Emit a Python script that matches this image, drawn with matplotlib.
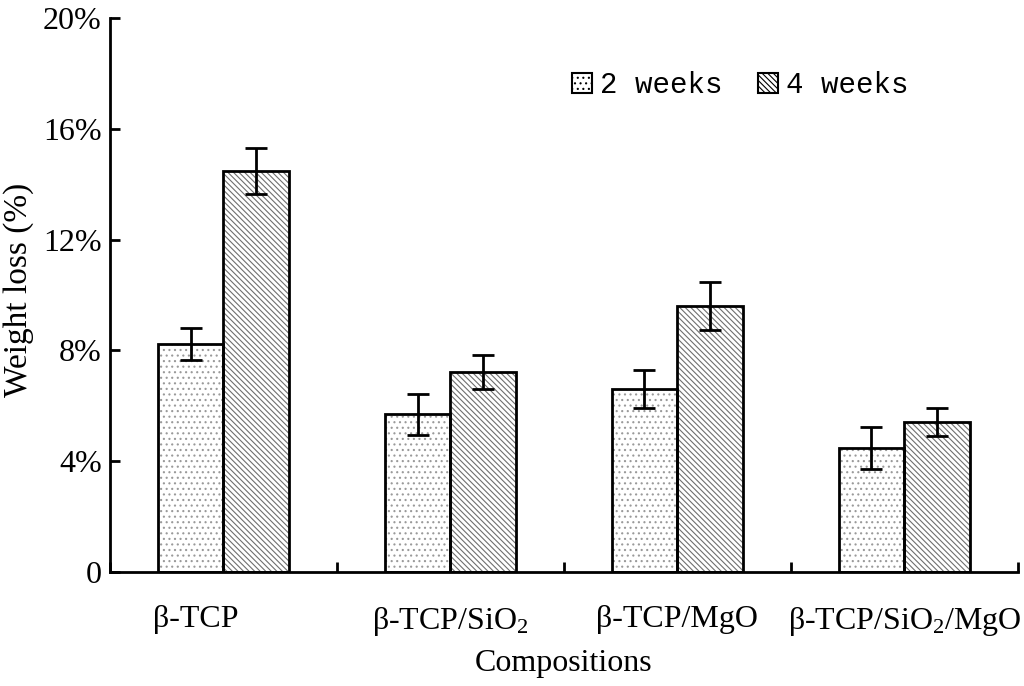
import matplotlib
matplotlib.use("Agg")
import matplotlib.pyplot as plt
import matplotlib.transforms as mtransforms
from matplotlib.patches import Patch
import numpy as np

plt.rcParams['font.family'] = ['Liberation Serif', 'DejaVu Serif']
plt.rcParams['mathtext.fontset'] = 'custom'
plt.rcParams['mathtext.rm'] = 'Liberation Serif'
plt.rcParams['mathtext.it'] = 'Liberation Serif:italic'
plt.rcParams['hatch.linewidth'] = 0.8

categories = ['β-TCP', 'β-TCP/SiO$_2$', 'β-TCP/MgO', 'β-TCP/SiO$_2$/MgO']
weeks2 = [8.23, 5.70, 6.60, 4.48]
weeks2_err = [0.58, 0.74, 0.68, 0.77]
weeks4 = [14.48, 7.22, 9.60, 5.42]
weeks4_err = [0.83, 0.62, 0.88, 0.50]
series_labels = ['2 weeks', '4 weeks']
yticks = [0, 4, 8, 12, 16, 20]
ytick_labels = ['0', '4%', '8%', '12%', '16%', '20%']

fig = plt.figure(figsize=(10.24, 6.86), dpi=100)
ax = fig.add_axes([0.1074, 0.1662, 0.8866, 0.8076])

x = np.arange(len(categories))
w = 0.29
hatch2 = '...'
hatch4 = '\\\\\\\\\\\\'

# hatch layers
ax.bar(x - w/2, weeks2, w, color='white', edgecolor='#9a9a9a', hatch=hatch2, linewidth=0)
ax.bar(x + w/2, weeks4, w, color='white', edgecolor='#6f6f6f', hatch=hatch4, linewidth=0)
# outlines
ax.bar(x - w/2, weeks2, w, fill=False, edgecolor='black', linewidth=2)
ax.bar(x + w/2, weeks4, w, fill=False, edgecolor='black', linewidth=2)
ax.errorbar(x - w/2, weeks2, yerr=weeks2_err, fmt='none', ecolor='black',
            elinewidth=2, capsize=8, capthick=2)
ax.errorbar(x + w/2, weeks4, yerr=weeks4_err, fmt='none', ecolor='black',
            elinewidth=2, capsize=8, capthick=2)

ax.set_xlim(-0.5, len(categories) - 0.5)
ax.set_ylim(0, 20)
ax.set_yticks(yticks)
ax.set_yticklabels(ytick_labels, fontsize=23)
ax.set_xticks(np.arange(len(categories) + 1) - 0.5)
ax.set_xticklabels([])
ax.set_xticks(x, minor=True)
ax.set_xticklabels(categories, minor=True, fontsize=23)
ax.tick_params(axis='x', which='minor', length=0, pad=24)
ax.tick_params(axis='x', which='major', direction='in', length=7, width=2)
ax.tick_params(axis='y', direction='in', length=7, width=2, pad=6)
for s in ['top', 'right']:
    ax.spines[s].set_visible(False)
for s in ['left', 'bottom']:
    ax.spines[s].set_linewidth(2)

# first category label sits a bit left in the reference
lbl0 = ax.get_xticklabels(minor=True)[0]
lbl0.set_transform(lbl0.get_transform() +
                   mtransforms.ScaledTranslation(-28/100, 0, fig.dpi_scale_trans))

ax.set_ylabel('Weight loss (%)', fontsize=24)
ax.yaxis.set_label_coords(-0.084, 0.509)
ax.set_xlabel('Compositions', fontsize=23, labelpad=8)

h1 = Patch(facecolor='white', edgecolor='black', hatch=hatch2, linewidth=1.5)
h2 = Patch(facecolor='white', edgecolor='black', hatch=hatch4, linewidth=1.5)
leg = ax.legend([h1, h2], series_labels, loc='center left', bbox_to_anchor=(0.509, 0.879),
                ncol=2, frameon=False, handlelength=0.69, handleheight=0.69,
                handletextpad=0.28, columnspacing=1.2, borderpad=0, borderaxespad=0,
                prop={'family': 'Liberation Mono', 'size': 21})

fig.savefig('out.png', dpi=100)
